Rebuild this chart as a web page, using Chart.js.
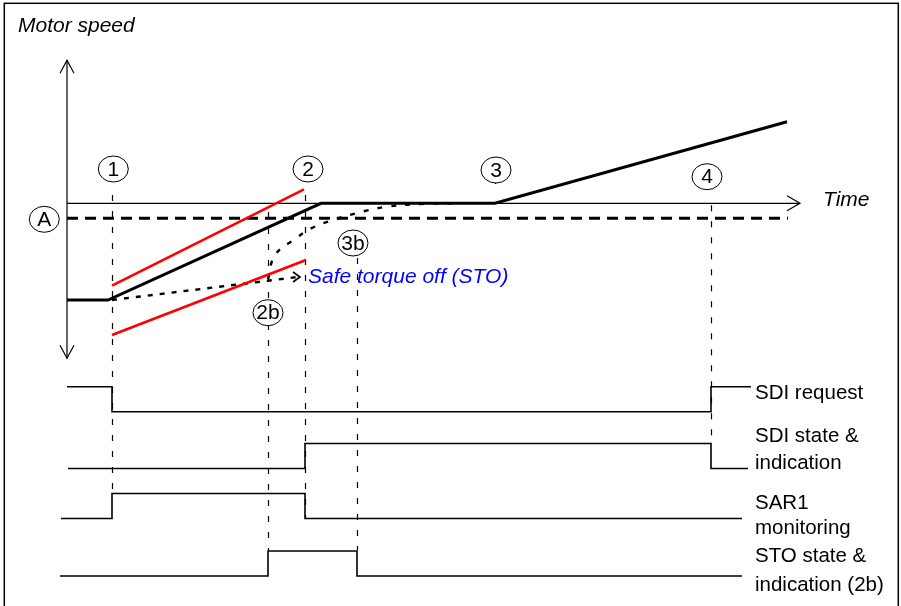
<!DOCTYPE html>
<html>
<head>
<meta charset="utf-8">
<script src="https://cdn.jsdelivr.net/npm/chart.js@4.4.1/dist/chart.umd.min.js"></script>
<style>
  html, body { margin: 0; padding: 0; background: #fff; }
  #wrap { width: 901px; height: 606px; }
</style>
</head>
<body>
<div id="wrap"><canvas id="sdiChart" width="901" height="606"></canvas></div>
<script>
// event times on the time axis
var T1 = 4.5, T2B = 20.1, T2 = 23.8, T3B = 29.0, T3 = 42.8, T4 = 64.4;

// motor speed (negative = below the time axis)
var speedTimes = [0, 4.1, 25.4, T3, 72];
var speedValues = [-9.67, -9.67, 0, 0, 8.16];

// SAR1 ramp limits (red)
var upperLimitTimes = [T1, 23.7];
var upperLimitValues = [-8.24, 1.4];
var lowerLimitTimes = [T1, 23.9];
var lowerLimitValues = [-13.17, -5.67];

// speed limit A
var limitATimes = [0, 72.1];
var limitAValue = -1.5;

// STO path (dotted) and coast down after STO
var stoTimes = [T1, 23.1];
var stoValues = [-9.67, -7.37];
var coastTimes = [20.1, 20.8, 22.8, 24.3, 26.3, 29.0, 31.8, 35.3, 39.3];
var coastValues = [-7.6, -5.17, -3.57, -2.57, -1.77, -0.97, -0.37, -0.07, 0];

// axes of the speed plot
var speedAxisRange = [14.3, -15.5];
var timeAxisEnd = 73.3;

// timing signals
var signalBase = [7.77, 5.5, 3.5, 1.2];
var signalTimes = [
    [0, T1, T4, 68.4],
    [0.1, T2, T4, 68.1],
    [-0.6, T1, T2, 67.5],
    [-0.7, T2B, T3B, 67.5]
];
var signalStates = [
    [1, 0, 1, 1],
    [0, 1, 0, 0],
    [0, 1, 0, 0],
    [0, 1, 0, 0]
];
var signalLabels = [
    ['SDI request'],
    ['SDI state &', 'indication'],
    ['SAR1', 'monitoring'],
    ['STO state &', 'indication (2b)']
];
var signalLabelLevels = [
    [8.5],
    [6.8, 5.7],
    [4.12, 3.1],
    [2.0, 0.84]
];
var signalLabelTime = 68.8;

// dashed event markers: time, top (speed units), bottom (signal units)
var markerTimes = [T1, T2B, T2, T3B, T3, T4];
var markerTops = [0.83, -0.87, 0.83, -5.47, 2.53, -0.2];
var markerBottoms = [4.51, 2.23, 3.5, 2.23, 16.72, 6.55];

// numbered callouts
var calloutLabels = ['1', '2', '3', '4', 'A', '2b', '3b'];
var calloutTimes = [4.63, 24.1, 42.9, 64.0, -2.27, 20.1, 28.6];
var calloutSpeeds = [3.43, 3.43, 3.33, 2.66, -1.6, -10.94, -3.97];

var FONT = '"Liberation Sans", Arial, sans-serif';

function toPoints(xs, ys) {
    var pts = [];
    for (var i = 0; i < xs.length; i++) pts.push({x: xs[i], y: ys[i]});
    return pts;
}

function lineSet(points, color, width, extra) {
    var ds = {
        data: points,
        showLine: true,
        borderColor: color,
        backgroundColor: color,
        borderWidth: width,
        pointRadius: 0,
        pointHoverRadius: 0,
        fill: false,
        tension: 0
    };
    for (var k in extra) ds[k] = extra[k];
    return ds;
}

var datasets = [
    lineSet(toPoints(speedTimes, speedValues), '#000', 3),
    lineSet(toPoints(upperLimitTimes, upperLimitValues), 'rgb(255,0,0)', 2.6),
    lineSet(toPoints(lowerLimitTimes, lowerLimitValues), 'rgb(255,0,0)', 2.6),
    lineSet(toPoints(stoTimes, stoValues), '#000', 2.4, {borderDash: [5, 7]}),
    lineSet(toPoints(coastTimes, coastValues), '#000', 2.4, {borderDash: [5, 9], tension: 0.4}),
    lineSet(toPoints(limitATimes, [limitAValue, limitAValue]), '#000', 3, {borderDash: [11, 7]}),
    lineSet(toPoints([0, 0], speedAxisRange), '#000', 1.2),
    lineSet(toPoints([0, timeAxisEnd], [0, 0]), '#000', 1.2)
];

for (var s = 0; s < signalTimes.length; s++) {
    var lv = [];
    for (var j = 0; j < signalStates[s].length; j++) lv.push(signalBase[s] + signalStates[s][j]);
    datasets.push(lineSet(toPoints(signalTimes[s], lv), '#000', 1.6, {yAxisID: 'ySig', stepped: true}));
}

function chevron(ctx, x, y, ux, uy, len, half) {
    var px = -uy, py = ux;
    ctx.beginPath();
    ctx.moveTo(x - ux * len + px * half, y - uy * len + py * half);
    ctx.lineTo(x, y);
    ctx.lineTo(x - ux * len - px * half, y - uy * len - py * half);
    ctx.stroke();
}

var diagramPlugin = {
    id: 'diagram',
    beforeDatasetsDraw: function(chart) {
        var ctx = chart.ctx, xs = chart.scales.x, ys = chart.scales.y, ss = chart.scales.ySig;
        ctx.save();
        ctx.strokeStyle = '#000';
        ctx.lineWidth = 1.2;
        ctx.setLineDash([6, 10]);
        for (var i = 0; i < markerTimes.length; i++) {
            var px = Math.round(xs.getPixelForValue(markerTimes[i])) + 0.5;
            ctx.beginPath();
            ctx.moveTo(px, ys.getPixelForValue(markerTops[i]));
            ctx.lineTo(px, ss.getPixelForValue(markerBottoms[i]));
            ctx.stroke();
        }
        ctx.restore();
    },
    afterDatasetsDraw: function(chart) {
        var ctx = chart.ctx, xs = chart.scales.x, ys = chart.scales.y, ss = chart.scales.ySig;
        ctx.save();
        ctx.strokeStyle = '#000';
        ctx.setLineDash([]);

        // axis arrow heads
        ctx.lineWidth = 1.2;
        var ax = xs.getPixelForValue(0);
        chevron(ctx, ax, ys.getPixelForValue(speedAxisRange[0]), 0, -1, 13, 7);
        chevron(ctx, ax, ys.getPixelForValue(speedAxisRange[1]), 0, 1, 13, 7);
        chevron(ctx, xs.getPixelForValue(timeAxisEnd), ys.getPixelForValue(0), 1, 0, 13, 7.5);

        // STO arrow head
        ctx.lineWidth = 1.6;
        var x1 = xs.getPixelForValue(stoTimes[1]), y1 = ys.getPixelForValue(stoValues[1]);
        chevron(ctx, x1 + 2, y1, 1, 0, 7, 5);

        // callout circles
        ctx.lineWidth = 1;
        ctx.font = '21px ' + FONT;
        ctx.textAlign = 'center';
        ctx.textBaseline = 'middle';
        for (var i = 0; i < calloutLabels.length; i++) {
            var cx = xs.getPixelForValue(calloutTimes[i]);
            var cy = ys.getPixelForValue(calloutSpeeds[i]);
            ctx.beginPath();
            ctx.ellipse(cx, cy, 15, 13, 0, 0, Math.PI * 2);
            ctx.fillStyle = '#fff';
            ctx.fill();
            ctx.stroke();
            ctx.fillStyle = '#000';
            ctx.fillText(calloutLabels[i], cx, cy + 1);
        }

        // titles
        ctx.textAlign = 'left';
        ctx.font = 'italic 21px ' + FONT;
        ctx.fillText('Motor speed', xs.getPixelForValue(-4.9), ys.getPixelForValue(17.73));
        ctx.fillText('Time', xs.getPixelForValue(75.6), ys.getPixelForValue(0.33));
        ctx.fillStyle = '#0000ff';
        ctx.fillText('Safe torque off (STO)', xs.getPixelForValue(24.1), ys.getPixelForValue(-7.37));

        // signal labels
        ctx.fillStyle = '#000';
        ctx.font = '20.5px ' + FONT;
        for (var s = 0; s < signalLabels.length; s++) {
            for (var l = 0; l < signalLabels[s].length; l++) {
                ctx.fillText(signalLabels[s][l], xs.getPixelForValue(signalLabelTime),
                    ss.getPixelForValue(signalLabelLevels[s][l]));
            }
        }

        // frame
        ctx.lineWidth = 1.5;
        ctx.strokeRect(4.3, 3.3, 894, chart.height + 10);
        ctx.restore();
    }
};

var ctxDiagram = document.getElementById('sdiChart');

var sdiChart = new Chart(ctxDiagram, {
    type: 'scatter',
    data: { datasets: datasets },
    options: {
        responsive: false,
        animation: false,
        events: [],
        layout: { padding: 0 },
        plugins: {
            legend: { display: false },
            tooltip: { enabled: false }
        },
        scales: {
            x: { type: 'linear', min: -6.7, max: 83.4, display: false },
            y: { type: 'linear', min: -40.27, max: 20.33, display: false },
            ySig: { type: 'linear', position: 'right', min: 0, max: 24.24, display: false }
        }
    },
    plugins: [diagramPlugin]
});
</script>
</body>
</html>
